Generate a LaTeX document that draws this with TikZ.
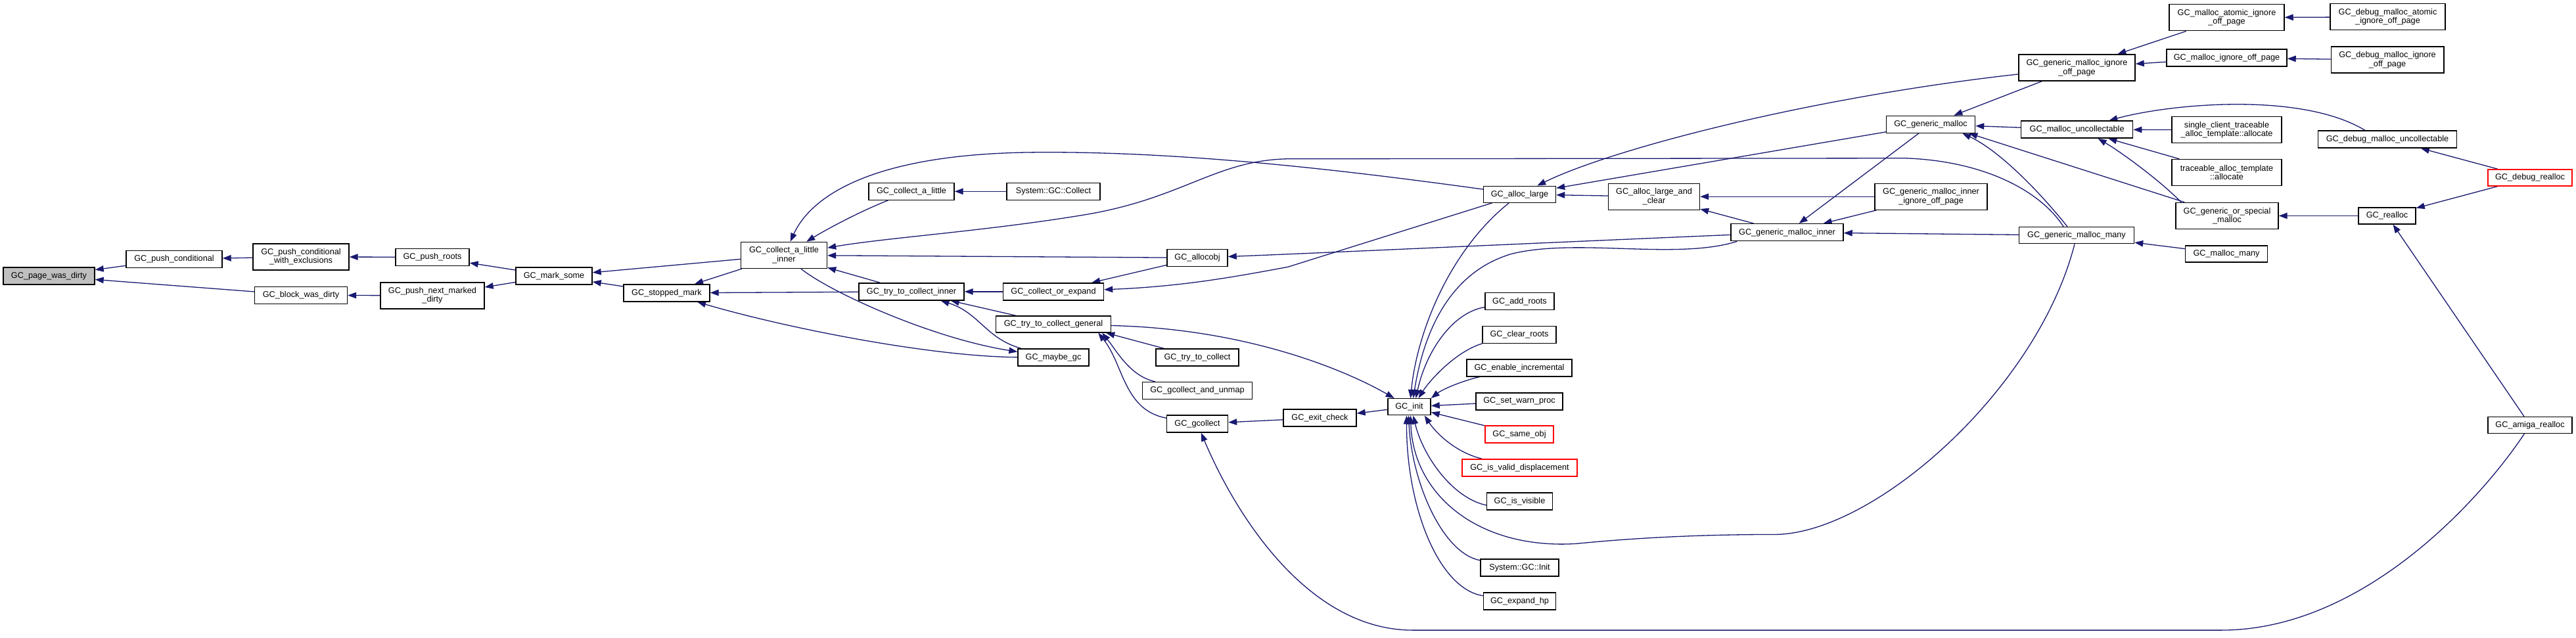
\documentclass[tikz,border=0pt]{standalone}
\usepackage{fontspec}
\setmainfont{Liberation Sans}
\usetikzlibrary{arrows.meta}
\definecolor{edgecol}{HTML}{191970}
\definecolor{grayfill}{HTML}{BFBFBF}
\pgfdeclarelayer{bg}
\pgfsetlayers{bg,main}
\begin{document}
\begin{tikzpicture}[x=1pt,y=-0.9908pt,
  box/.style={draw=black, line width=1.4pt, fill=white, inner sep=0pt, align=center,
    font=\fontsize{12.7pt}{13.5pt}\selectfont},
  redbox/.style={box, draw=red},
  cline/.style={draw=edgecol, line width=1.3pt, {Triangle[length=13pt,width=9.5pt]}-}]
\useasboundingbox (0,0) rectangle (3920,980);
% nodes
\node[box, fill=grayfill, minimum width=139pt, minimum height=26pt] (pwd) at (74.5,424) {GC\_page\_was\_dirty};
\node[box, minimum width=146pt, minimum height=26pt] (pc) at (265,398) {GC\_push\_conditional};
\node[box, minimum width=146pt, minimum height=40pt] (pcwe) at (458,394.5) {GC\_push\_conditional\\\_with\_exclusions};
\node[box, minimum width=141pt, minimum height=26pt] (bwd) at (458,453.5) {GC\_block\_was\_dirty};
\node[box, minimum width=112pt, minimum height=26pt] (pr) at (658,395) {GC\_push\_roots};
\node[box, minimum width=158pt, minimum height=40pt] (pnmd) at (658,454) {GC\_push\_next\_marked\\\_dirty};
\node[box, minimum width=116pt, minimum height=26pt] (ms) at (843,424) {GC\_mark\_some};
\node[box, minimum width=131pt, minimum height=26pt] (sm) at (1014.5,450) {GC\_stopped\_mark};
\node[box, minimum width=131pt, minimum height=40pt] (cali) at (1193,392) {GC\_collect\_a\_little\\\_inner};
\node[box, minimum width=130pt, minimum height=26pt] (cal) at (1387,294) {GC\_collect\_a\_little};
\node[box, minimum width=142pt, minimum height=26pt] (sgc) at (1603,294) {System::GC::Collect};
\node[box, minimum width=160pt, minimum height=26pt] (ttci) at (1387,448) {GC\_try\_to\_collect\_inner};
\node[box, minimum width=153pt, minimum height=26pt] (coe) at (1603,448) {GC\_collect\_or\_expand};
\node[box, minimum width=92pt, minimum height=26pt] (ao) at (1822,396) {GC\_allocobj};
\node[box, minimum width=175pt, minimum height=25pt] (ttcg) at (1603,498) {GC\_try\_to\_collect\_general};
\node[box, minimum width=108pt, minimum height=26pt] (mgc) at (1603,549) {GC\_maybe\_gc};
\node[box, minimum width=126pt, minimum height=26pt] (ttc) at (1822,549) {GC\_try\_to\_collect};
\node[box, minimum width=167pt, minimum height=26pt] (gau) at (1822,600) {GC\_gcollect\_and\_unmap};
\node[box, minimum width=93pt, minimum height=26pt] (gc) at (1822,651) {GC\_gcollect};
\node[box, minimum width=111pt, minimum height=26pt] (ec) at (2008.5,642) {GC\_exit\_check};
\node[box, minimum width=65pt, minimum height=25pt] (init) at (2144.5,625) {GC\_init};
\node[box, minimum width=110pt, minimum height=25pt] (al) at (2312.5,298.5) {GC\_alloc\_large};
\node[box, minimum width=139pt, minimum height=40pt] (alc) at (2517,302) {GC\_alloc\_large\_and\\\_clear};
\node[box, minimum width=171pt, minimum height=26pt] (gmi) at (2719.5,357) {GC\_generic\_malloc\_inner};
\node[box, minimum width=105pt, minimum height=26pt] (ar) at (2312.5,463) {GC\_add\_roots};
\node[box, minimum width=112pt, minimum height=26pt] (cr) at (2312,514) {GC\_clear\_roots};
\node[box, minimum width=160pt, minimum height=26pt] (ei) at (2312,565) {GC\_enable\_incremental};
\node[box, minimum width=132pt, minimum height=26pt] (swp) at (2312,616.5) {GC\_set\_warn\_proc};
\node[redbox, minimum width=104pt, minimum height=26pt] (so) at (2312,667) {GC\_same\_obj};
\node[redbox, minimum width=175pt, minimum height=26pt] (ivd) at (2312.5,718.5) {GC\_is\_valid\_displacement};
\node[box, minimum width=100pt, minimum height=26pt] (iv) at (2312.5,770) {GC\_is\_visible};
\node[box, minimum width=119pt, minimum height=26pt] (sgi) at (2312.5,872) {System::GC::Init};
\node[box, minimum width=110pt, minimum height=26pt] (eh) at (2312.5,923.5) {GC\_expand\_hp};
\node[box, minimum width=135pt, minimum height=26pt] (gm) at (2938,191) {GC\_generic\_malloc};
\node[box, minimum width=171pt, minimum height=40pt] (gmiio) at (2938.5,302) {GC\_generic\_malloc\_inner\\\_ignore\_off\_page};
\node[box, minimum width=177pt, minimum height=40pt] (gmio) at (3160.5,104) {GC\_generic\_malloc\_ignore\\\_off\_page};
\node[box, minimum width=175pt, minimum height=40pt] (maio) at (3388.5,27) {GC\_malloc\_atomic\_ignore\\\_off\_page};
\node[box, minimum width=175pt, minimum height=40pt] (dmaio) at (3633.5,26) {GC\_debug\_malloc\_atomic\\\_ignore\_off\_page};
\node[box, minimum width=183pt, minimum height=26pt] (mio) at (3388.5,89) {GC\_malloc\_ignore\_off\_page};
\node[box, minimum width=171.5pt, minimum height=40pt] (dmio) at (3633,92) {GC\_debug\_malloc\_ignore\\\_off\_page};
\node[box, minimum width=170pt, minimum height=26pt] (mu) at (3160.6,199) {GC\_malloc\_uncollectable};
\node[box, minimum width=167pt, minimum height=40pt] (sctat) at (3388.5,199.5) {single\_client\_traceable\\\_alloc\_template::allocate};
\node[box, minimum width=167pt, minimum height=40pt] (tat) at (3388.5,265) {traceable\_alloc\_template\\::allocate};
\node[box, minimum width=211pt, minimum height=26pt] (dmu) at (3633,214) {GC\_debug\_malloc\_uncollectable};
\node[redbox, minimum width=128pt, minimum height=25pt] (dr) at (3850,273) {GC\_debug\_realloc};
\node[box, minimum width=156pt, minimum height=40pt] (gosm) at (3389,331.5) {GC\_generic\_or\_special\\\_malloc};
\node[box, minimum width=87pt, minimum height=25pt] (ra) at (3632.5,331.5) {GC\_realloc};
\node[box, minimum width=175pt, minimum height=25pt] (gmm) at (3160,361.5) {GC\_generic\_malloc\_many};
\node[box, minimum width=125pt, minimum height=25pt] (mm) at (3388,390) {GC\_malloc\_many};
\node[box, minimum width=128pt, minimum height=25pt] (amr) at (3850,653) {GC\_amiga\_realloc};
% edges
\begin{pgfonlayer}{bg}
\draw[cline] (pwd) -- (pc);
\draw[cline] (pwd) -- (bwd);
\draw[cline] (pc) -- (pcwe);
\draw[cline] (pcwe) -- (pr);
\draw[cline] (bwd) -- (pnmd);
\draw[cline] (pr) -- (ms);
\draw[cline] (pnmd) -- (ms);
\draw[cline] (ms) -- (cali);
\draw[cline] (ms) -- (sm);
\draw[cline] (sm) -- (cali);
\draw[cline] (sm) -- (ttci);
\draw[cline] (sm) .. controls (1200,505) and (1420,548) .. (mgc);
\draw[cline] (cali) .. controls (1270,345) and (1320,320) .. (cal);
\draw[cline] (cal) -- (sgc);
\draw[cline] (cali) .. controls (1235,300) and (1330,236) .. (1574,234) .. controls (1800,232) and (2050,262) .. (al);
\draw[cline] (cali) -- (ao);
\draw[cline] (cali) -- (ttci);
\draw[cline] (cali) .. controls (1350,365) and (1500,355) .. (1650,330) .. controls (1800,305) and (1850,246) .. (1960,244) -- (2900,243) .. controls (3030,248) and (3110,300) .. ([xshift=-20pt]gmm.north);
\draw[cline] (ttci) -- (coe);
\draw[cline] (ttci) -- (ttcg);
\draw[cline] (ttci) .. controls (1490,480) and (1500,520) .. (mgc);
\draw[cline] (mgc) .. controls (1420,520) and (1265,450) .. (cali);
\draw[cline] (coe) -- (ao);
\draw[cline] (coe) .. controls (1800,440) and (1880,425) .. (1960,410) -- (al);
\draw[cline] (ao) .. controls (2000,389) and (2300,375) .. (gmi);
\draw[cline] ([xshift=-8pt]ttcg.south east) -- (ttc);
\draw[cline] ([xshift=-14pt]ttcg.south east) .. controls (1700,540) and (1720,578) .. (gau);
\draw[cline] ([xshift=-20pt]ttcg.south east) .. controls (1710,560) and (1710,630) .. (gc);
\draw[cline] (init) .. controls (2050,570) and (1900,505) .. (ttcg);
\draw[cline] (gc) -- (ec);
\draw[cline] (ec) -- (init);
\draw[cline] (gc) .. controls (1880,790) and (1990,968) .. (2150,968) -- (3380,968) .. controls (3600,968) and (3780,760) .. (amr);
\draw[cline] ([xshift=2pt]init.north) .. controls (2155,520) and (2200,390) .. (al);
\draw[cline] ([xshift=6pt]init.north) .. controls (2165,520) and (2200,420) .. (2300,390) .. controls (2400,365) and (2550,400) .. ([xshift=10pt]gmi.south west);
\draw[cline] ([xshift=10pt]init.north) .. controls (2170,540) and (2210,480) .. (ar);
\draw[cline] ([xshift=14pt]init.north) .. controls (2175,585) and (2215,540) .. (cr.south west);
\draw[cline] (init.north east) .. controls (2195,598) and (2225,585) .. (ei);
\draw[cline] (init) -- (swp);
\draw[cline] (init) -- (so);
\draw[cline] ([xshift=-10pt]init.south east) .. controls (2185,665) and (2215,695) .. (ivd);
\draw[cline] ([xshift=6pt]init.south) .. controls (2165,700) and (2210,765) .. ([yshift=-6pt]iv.west);
\draw[cline] ([xshift=2pt]init.south) .. controls (2150,760) and (2250,845) .. (2400,835) .. controls (2500,825) and (2600,821) .. (2700,821) .. controls (2850,821) and (3100,600) .. ([xshift=-3pt]gmm.south);
\draw[cline] ([xshift=-1pt]init.south) .. controls (2148,740) and (2195,850) .. (sgi);
\draw[cline] ([xshift=-4pt]init.south) .. controls (2140,780) and (2190,905) .. (eh);
\draw[cline] (al) -- (alc);
\draw[cline] (al) -- (gm);
\draw[cline] (al) .. controls (2450,230) and (2750,150) .. (gmio);
\draw[cline] (alc) -- (gmi);
\draw[cline] (alc) -- (gmiio);
\draw[cline] (gmi) -- (gm);
\draw[cline] (gmi) -- (gmiio);
\draw[cline] (gmi) -- (gmm);
\draw[cline] (gm) -- (gmio);
\draw[cline] (gm) -- (mu);
\draw[cline] ([xshift=-20pt]gm.south east) .. controls (3040,230) and (3100,290) .. ([xshift=-14pt]gmm.north);
\draw[cline] ([xshift=-10pt]gm.south east) -- (gosm);
\draw[cline] (gmio) -- (maio);
\draw[cline] (gmio) -- (mio);
\draw[cline] (maio) -- (dmaio);
\draw[cline] (mio) -- (dmio);
\draw[cline] (mu) -- (sctat);
\draw[cline] (mu) -- (tat);
\draw[cline] ([xshift=-37pt]mu.north east) .. controls (3300,160) and (3500,140) .. ([xshift=-34pt]dmu.north);
\draw[cline] ([xshift=32pt]mu.south) .. controls (3230,235) and (3290,280) .. ([xshift=-70pt]gosm.north);
\draw[cline] (gosm) -- (ra);
\draw[cline] (gmm) -- (mm);
\draw[cline] (dmu) -- (dr);
\draw[cline] (ra) -- (dr);
\draw[cline] (ra) -- (amr);
\end{pgfonlayer}
\end{tikzpicture}
\end{document}
